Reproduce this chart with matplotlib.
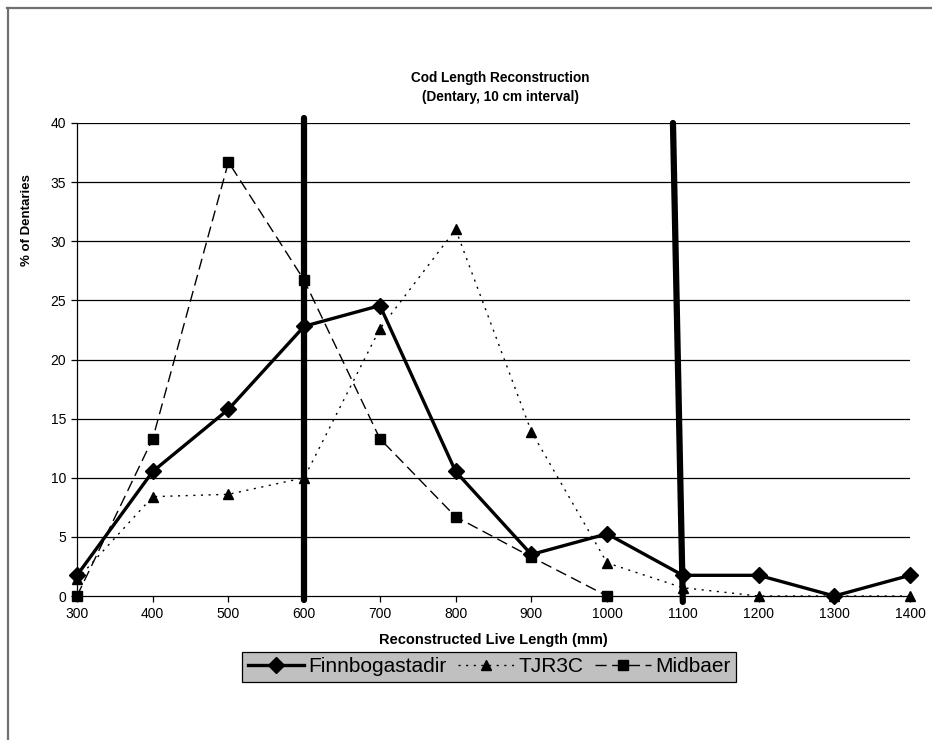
import matplotlib
matplotlib.use("Agg")
import matplotlib.pyplot as plt
from matplotlib.lines import Line2D

plt.rcParams['font.family'] = ['Liberation Sans', 'DejaVu Sans']

lengths = [300, 400, 500, 600, 700, 800, 900, 1000, 1100, 1200, 1300, 1400]
tick_labels = ['300', '400', '500', '600', '700', '800', '900', '1000', '1100', '1200', '1300', '1400']
finnbogastadir = [1.75, 10.53, 15.79, 22.81, 24.56, 10.53, 3.51, 5.26, 1.75, 1.75, 0.0, 1.75]
tjr3c = [1.4, 8.4, 8.6, 10.0, 22.6, 31.0, 13.9, 2.8, 0.7, 0.0, 0.0, 0.0]
midbaer_x = [300, 400, 500, 600, 700, 800, 900, 1000]
midbaer = [0.0, 13.3, 36.7, 26.7, 13.3, 6.7, 3.3, 0.0]

# hand-drawn vertical marker lines
marker1_x = [600, 600]
marker1_y = [-0.3, 40.4]
marker2_x = [1087, 1100]
marker2_y = [40.0, -0.5]

W, H = 932, 740
fig = plt.figure(figsize=(W / 100, H / 100), dpi=100)
fig.patch.set_facecolor('white')

# outer chart border (top and left visible)
fig.add_artist(Line2D([7.5 / W, 7.5 / W], [0, 1 - 8 / H], transform=fig.transFigure,
                      color='#707070', lw=1.6))
fig.add_artist(Line2D([7 / W, 1], [1 - 8 / H, 1 - 8 / H], transform=fig.transFigure,
                      color='#707070', lw=1.6))

ax = fig.add_axes([77 / W, 1 - 596 / H, (910 - 77) / W, (596 - 123) / H])
ax.set_xlim(300, 1400)
ax.set_ylim(0, 40)
ax.set_yticks(range(0, 41, 5))
ax.set_xticks(lengths)
ax.set_xticklabels(tick_labels)
for y in range(5, 41, 5):
    ax.axhline(y, color='black', lw=0.9, zorder=1)
for s in ['top', 'right']:
    ax.spines[s].set_visible(False)
for s in ['left', 'bottom']:
    ax.spines[s].set_linewidth(0.9)
ax.tick_params(axis='both', direction='out', length=4, width=0.9, labelsize=10, pad=4)

ax.plot(midbaer_x, midbaer, color='black', lw=1.0, ls=(0, (8, 4)), marker='s',
        ms=6.5, clip_on=False, zorder=3, label='Midbaer')
ax.plot(lengths, tjr3c, color='black', lw=1.0, ls=(0, (1.5, 4)), marker='^',
        ms=6.5, clip_on=False, zorder=3, label='TJR3C')
ax.plot(lengths, finnbogastadir, color='black', lw=2.4, ls='-', marker='D',
        ms=8, clip_on=False, zorder=4, label='Finnbogastadir')

ax.plot(marker1_x, marker1_y, color='black', lw=4.5, solid_capstyle='round', clip_on=False, zorder=5)
ax.plot(marker2_x, marker2_y, color='black', lw=4.5, solid_capstyle='round', clip_on=False, zorder=5)

fig.text(500 / W, 1 - 78 / H, 'Cod Length Reconstruction', ha='center', va='center',
         fontsize=9.8, fontweight='bold')
fig.text(500 / W, 1 - 97 / H, '(Dentary, 10 cm interval)', ha='center', va='center',
         fontsize=9.8, fontweight='bold')
fig.text(27 / W, 1 - 220 / H, '% of Dentaries', rotation=90, ha='center', va='center',
         fontsize=9.5, fontweight='bold')
fig.text(493 / W, 1 - 640 / H, 'Reconstructed Live Length (mm)', ha='center', va='center',
         fontsize=10.5, fontweight='bold')

handles = [
    Line2D([], [], color='black', lw=2.4, marker='D', ms=8),
    Line2D([], [], color='black', lw=1.0, ls=(0, (1.5, 4)), marker='^', ms=6.5),
    Line2D([], [], color='black', lw=1.0, ls=(0, (8, 4)), marker='s', ms=6.5),
]
leg = fig.legend(handles, ['Finnbogastadir', 'TJR3C', 'Midbaer'], ncol=3,
                 loc='center', bbox_to_anchor=(489 / W, 1 - 667 / H),
                 frameon=True, fancybox=False, fontsize=15, handlelength=2.7,
                 handletextpad=0.2, columnspacing=0.55, borderpad=0.28,
                 borderaxespad=0)
leg.get_frame().set_facecolor('#c0c0c0')
leg.get_frame().set_edgecolor('black')
leg.get_frame().set_linewidth(0.9)
leg.get_frame().set_alpha(1)

fig.savefig('out.png', dpi=100, facecolor='white')
